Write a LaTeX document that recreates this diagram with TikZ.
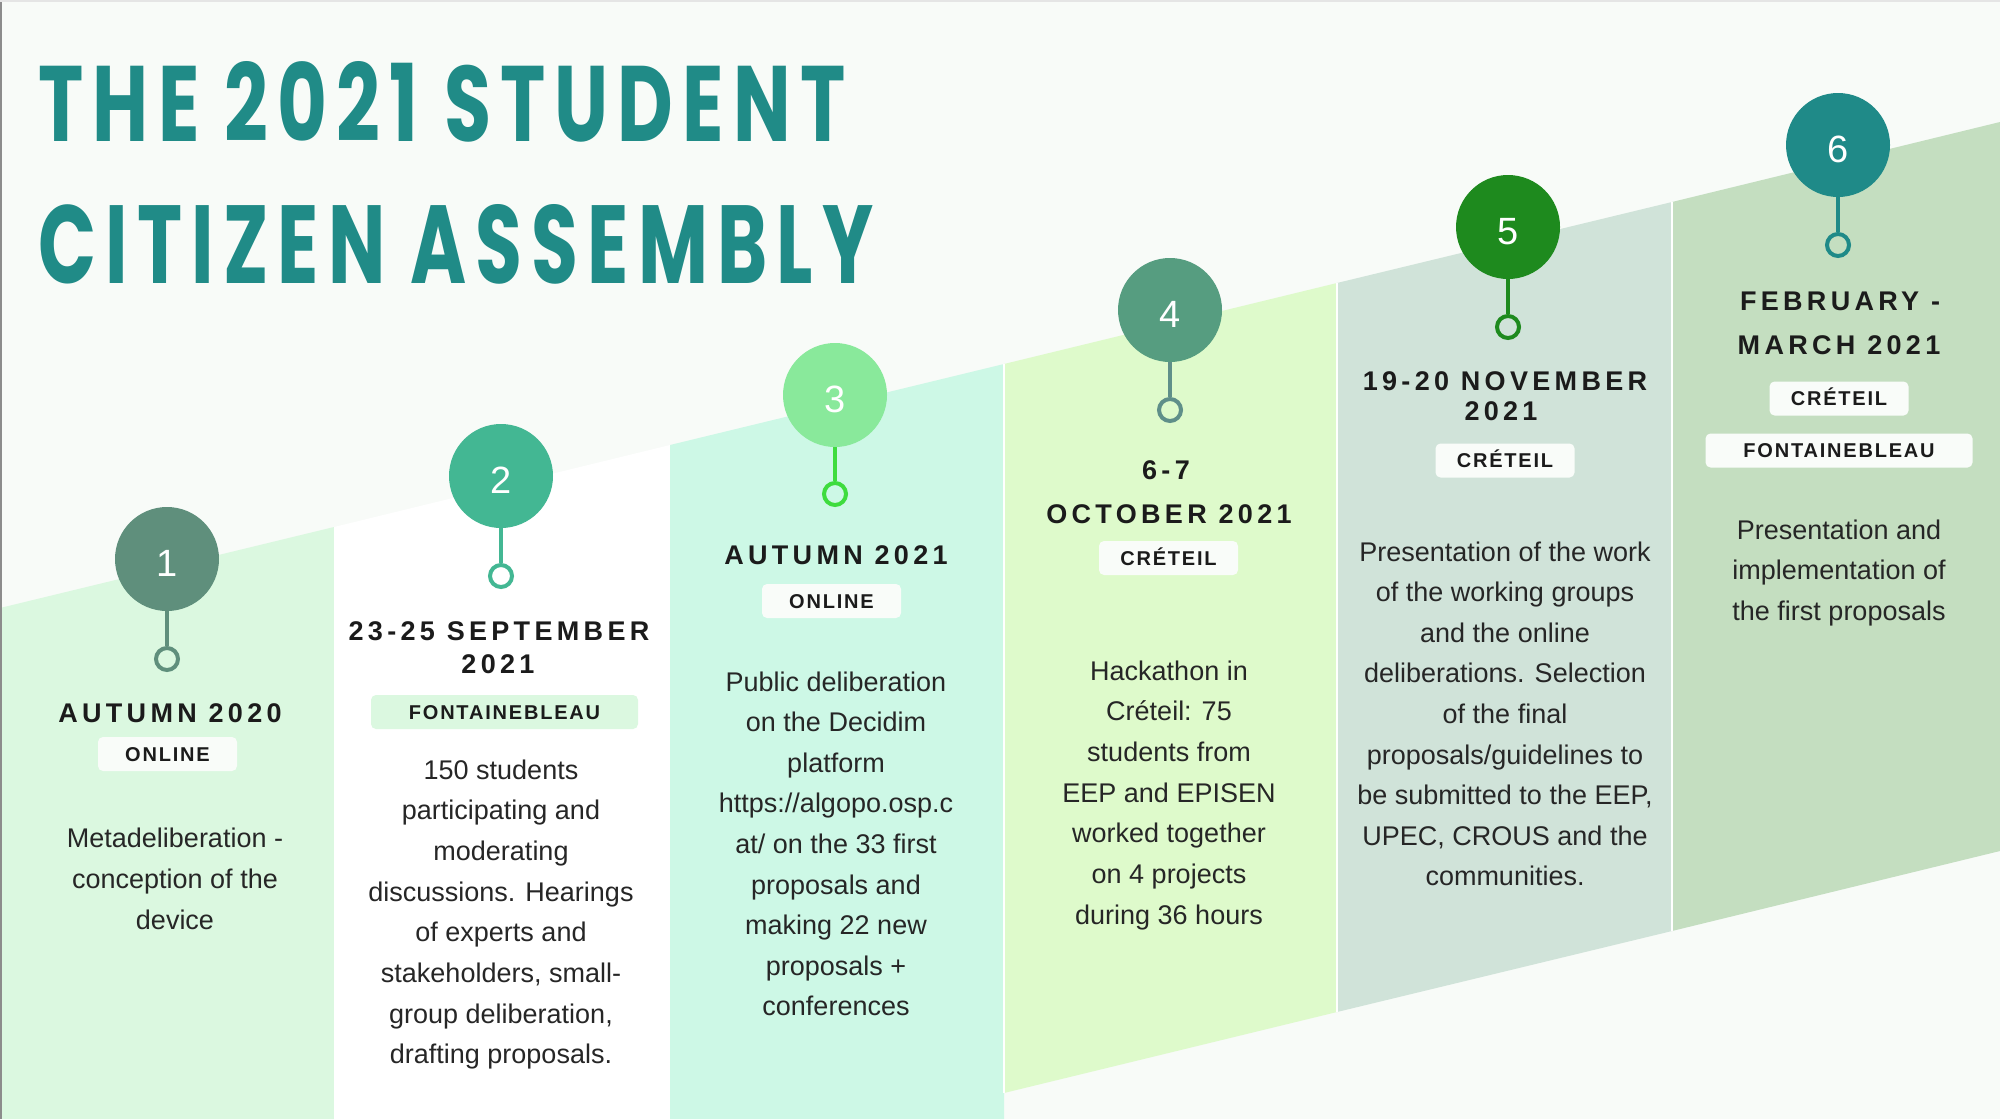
\documentclass[tikz,border=0pt]{standalone}
\usepackage{fontspec}
\usepackage{graphicx}
\setmainfont{Liberation Sans}
\newfontfamily\headfont[LetterSpace=16]{Liberation Sans}
\newfontfamily\tagfont[LetterSpace=9]{Liberation Sans}
\newfontfamily\titlefont[LetterSpace=12]{Poppins}

\definecolor{bg}{HTML}{F8FBF8}
\definecolor{colA}{HTML}{DBF8E0}
\definecolor{colB}{HTML}{FFFFFF}
\definecolor{colC}{HTML}{CDF8E6}
\definecolor{colD}{HTML}{DEFACB}
\definecolor{colE}{HTML}{D0E3D9}
\definecolor{colF}{HTML}{C4DEC0}
\definecolor{cA}{HTML}{5F8F7C}
\definecolor{cB}{HTML}{43B793}
\definecolor{cC}{HTML}{89E99B}
\definecolor{cCs}{HTML}{3EDC3E}
\definecolor{cD}{HTML}{569D80}
\definecolor{cDs}{HTML}{5F8F89}
\definecolor{cE}{HTML}{1E8A1E}
\definecolor{cF}{HTML}{1F8A88}
\definecolor{titlecol}{HTML}{208B87}
\definecolor{ink}{HTML}{1B1B1B}
\definecolor{bodyink}{HTML}{262626}
\definecolor{tagw}{HTML}{F9FCF9}

\newcommand\bodylines[5]{%
  \foreach \ln [count=\i from 0] in {#5} {
    \node[body] (#1-\i) at (#2, {#3+#4*\i}) {\ln};
  }}

\begin{document}
\begin{tikzpicture}[x=0.5pt,y=-0.5pt,
  bubble/.style={circle, minimum size=52pt, inner sep=0pt, text=white,
    font=\fontsize{19}{20}\selectfont, text height=17pt, text depth=0pt},
  ring/.style={circle, minimum size=11pt, inner sep=0pt, line width=2pt, draw},
  stem/.style={line width=2.25pt},
  head/.style={anchor=base, inner sep=0pt, text=ink,
    font=\headfont\bfseries\fontsize{13.5}{16}\selectfont},
  tagbox/.style={rounded corners=2.5pt, fill=tagw, minimum height=17pt,
    minimum width=69.5pt, inner sep=0pt, text=ink, text height=7.2pt, text depth=0pt,
    font=\tagfont\bfseries\fontsize{10}{11}\selectfont},
  widetag/.style={tagbox, minimum width=133.5pt},
  body/.style={anchor=base, inner sep=0pt, text=bodyink,
    font=\fontsize{13.5}{16}\selectfont},
  titletext/.style={anchor=base west, inner sep=0pt, text=titlecol}
]
\useasboundingbox (0,0) rectangle (2000,1119);
\fill[bg] (0,0) rectangle (2000,1119);

% columns
\fill[colA] (0,608) -- (334,527) -- (334,1119) -- (0,1119) -- cycle;
\fill[colB] (334,527) -- (670,445) -- (670,1119) -- (334,1119) -- cycle;
\fill[colC] (670,445) -- (1004,364) -- (1004,1119) -- (670,1119) -- cycle;
\fill[colD] (1004,364) -- (1337,283) -- (1337,1012) -- (1004,1093) -- cycle;
\fill[colE] (1337,283) -- (1672,202) -- (1672,931) -- (1337,1012) -- cycle;
\fill[colF] (1672,202) -- (2000,122) -- (2000,851) -- (1672,931) -- cycle;
\draw[white, line width=1.25pt] (1004,364) -- (1004,1093);
\draw[white, line width=1.25pt] (1337,283) -- (1337,1012);
\draw[white, line width=1.25pt] (1672,202) -- (1672,931);

% frame edges
\draw[black!45, line width=1pt] (1,0) -- (1,1119);
\draw[black!10, line width=1pt] (0,1) -- (2000,1);

% title
\node[titletext] (title1) at (38,141) {\resizebox{403.5pt}{40pt}{\titlefont\bfseries THE 2021 STUDENT}};
\node[titletext] (title2) at (38,283) {\resizebox{417.5pt}{39.5pt}{\titlefont\bfseries CITIZEN ASSEMBLY}};

% bubbles, stems, rings
\node[bubble, fill=cA] (c1) at (167,559) {1};
\node[bubble, fill=cB] (c2) at (501,476) {2};
\node[bubble, fill=cC] (c3) at (835,395) {3};
\node[bubble, fill=cD] (c4) at (1170,310) {4};
\node[bubble, fill=cE] (c5) at (1508,227) {5};
\node[bubble, fill=cF] (c6) at (1838,145) {6};

\node[ring, draw=cA] (r1) at (167,659) {};
\node[ring, draw=cB] (r2) at (501,576) {};
\node[ring, draw=cCs] (r3) at (835,494) {};
\node[ring, draw=cDs] (r4) at (1170,410) {};
\node[ring, draw=cE] (r5) at (1508,327) {};
\node[ring, draw=cF] (r6) at (1838,245) {};

\draw[stem, cA] (c1) -- (r1);
\draw[stem, cB] (c2) -- (r2);
\draw[stem, cCs] (c3) -- (r3);
\draw[stem, cDs] (c4) -- (r4);
\draw[stem, cE] (c5) -- (r5);
\draw[stem, cF] (c6) -- (r6);

% headings
\node[head] (h1) at (170,722) {AUTUMN 2020};
\node[head] (h2a) at (499,640) {23-25 SEPTEMBER};
\node[head] (h2b) at (498,673.5) {2021};
\node[head] (h3) at (836,564) {AUTUMN 2021};
\node[head] (h4a) at (1166,479) {6-7};
\node[head] (h4b) at (1169,523.5) {OCTOBER 2021};
\node[head] (h5a) at (1505,390) {19-20 NOVEMBER};
\node[head] (h5b) at (1501,420) {2021};
\node[head] (h6a) at (1840,310) {FEBRUARY -};
\node[head] (h6b) at (1839,354) {MARCH 2021};

% tags
\node[tagbox] (t1) at (167.5,754) {ONLINE};
\node[widetag, fill=colA] (t2) at (504.5,712) {FONTAINEBLEAU};
\node[tagbox] (t3) at (831.5,601) {ONLINE};
\node[tagbox] (t4) at (1168.5,558) {CRÉTEIL};
\node[tagbox] (t5) at (1505,460.5) {CRÉTEIL};
\node[tagbox] (t6a) at (1839,398.5) {CRÉTEIL};
\node[widetag] (t6b) at (1839,450.5) {FONTAINEBLEAU};

% body texts
\bodylines{b1}{175}{847}{41}{Metadeliberation -,conception of the,device}
\bodylines{b2}{501}{779}{40.7}{150 students,participating and,moderating,discussions. Hearings,of experts and,{stakeholders, small-},{group deliberation,},drafting proposals.}
\bodylines{b3}{836}{691}{40.6}{Public deliberation,on the Decidim,platform,https://algopo.osp.c,at/ on the 33 first,proposals and,making 22 new,proposals +,conferences}
\bodylines{b4}{1169}{680}{40.7}{Hackathon in,Créteil: 75,students from,EEP and EPISEN,worked together,on 4 projects,during 36 hours}
\bodylines{b5}{1505}{561}{40.6}{Presentation of the work,of the working groups,and the online,deliberations. Selection,of the final,proposals/guidelines to,{be submitted to the EEP,},{UPEC, CROUS and the},communities.}
\bodylines{b6}{1839}{539}{40.5}{Presentation and,implementation of,the first proposals}
\end{tikzpicture}
\end{document}
